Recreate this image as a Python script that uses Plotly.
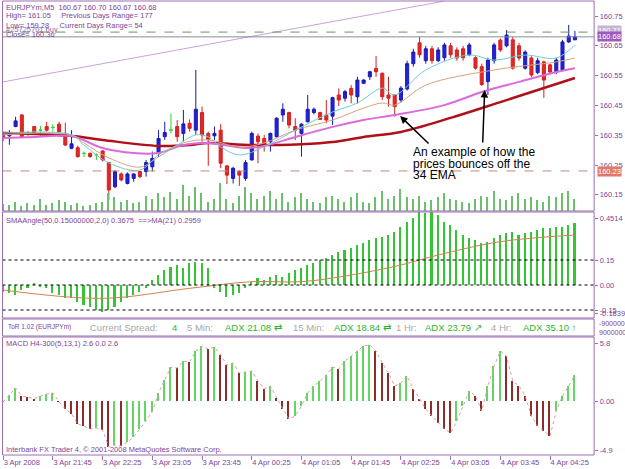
import plotly.graph_objects as go

# ---------------- data ----------------
TIME_TICKS = [0, 8, 16, 24, 32, 40, 48, 56, 64, 72, 80, 88]
TIME_LABELS = ["3 Apr 2008", "3 Apr 21:45", "3 Apr 22:25", "3 Apr 23:05", "3 Apr 23:45",
               "4 Apr 00:25", "4 Apr 01:05", "4 Apr 01:45", "4 Apr 02:25", "4 Apr 03:05",
               "4 Apr 03:45", "4 Apr 04:25"]

OPEN = [160.356, 160.348, 160.379, 160.418, 160.356, 160.379, 160.367, 160.379, 160.376, 160.387,
        160.356, 160.306, 160.308, 160.289, 160.289, 160.284, 160.297, 160.258, 160.177, 160.220,
        160.188, 160.205, 160.228, 160.228, 160.244, 160.289, 160.345, 160.367, 160.379, 160.356,
        160.390, 160.367, 160.426, 160.356, 160.348, 160.367, 160.247, 160.205, 160.228, 160.205,
        160.267, 160.347, 160.339, 160.328, 160.345, 160.418, 160.426, 160.379, 160.356, 160.395,
        160.426, 160.426, 160.418, 160.414, 160.485, 160.474, 160.507, 160.479, 160.524, 160.546,
        160.574, 160.558, 160.485, 160.485, 160.468, 160.505, 160.590, 160.660, 160.600, 160.640,
        160.600, 160.610, 160.650, 160.636, 160.640, 160.620, 160.610, 160.580, 160.530, 160.600,
        160.669, 160.650, 160.670, 160.650, 160.575, 160.609, 160.560, 160.596, 160.586, 160.562,
        160.569, 160.663, 160.670]
HIGH = [160.362, 160.367, 160.412, 160.420, 160.365, 160.381, 160.381, 160.395, 160.387, 160.395,
        160.392, 160.367, 160.315, 160.295, 160.292, 160.289, 160.300, 160.261, 160.233, 160.225,
        160.225, 160.222, 160.231, 160.267, 160.295, 160.367, 160.395, 160.423, 160.401, 160.435,
        160.403, 160.569, 160.446, 160.362, 160.379, 160.387, 160.250, 160.244, 160.233, 160.267,
        160.362, 160.356, 160.351, 160.359, 160.410, 160.457, 160.429, 160.407, 160.390, 160.485,
        160.443, 160.429, 160.468, 160.479, 160.507, 160.502, 160.518, 160.546, 160.538, 160.566,
        160.616, 160.560, 160.546, 160.488, 160.515, 160.600, 160.640, 160.680, 160.650, 160.650,
        160.645, 160.660, 160.660, 160.645, 160.650, 160.660, 160.615, 160.590, 160.610, 160.660,
        160.675, 160.703, 160.680, 160.660, 160.635, 160.615, 160.610, 160.600, 160.590, 160.610,
        160.670, 160.720, 160.700]
LOW = [160.330, 160.318, 160.377, 160.340, 160.347, 160.353, 160.345, 160.362, 160.362, 160.356,
       160.314, 160.303, 160.275, 160.276, 160.275, 160.267, 160.262, 160.133, 160.172, 160.195,
       160.185, 160.194, 160.206, 160.211, 160.228, 160.278, 160.334, 160.356, 160.328, 160.328,
       160.362, 160.351, 160.328, 160.247, 160.334, 160.239, 160.186, 160.188, 160.180, 160.197,
       160.265, 160.256, 160.295, 160.295, 160.342, 160.395, 160.373, 160.334, 160.278, 160.393,
       160.420, 160.401, 160.390, 160.384, 160.448, 160.463, 160.457, 160.457, 160.522, 160.535,
       160.546, 160.468, 160.446, 160.412, 160.460, 160.500, 160.580, 160.610, 160.590, 160.590,
       160.595, 160.600, 160.610, 160.600, 160.600, 160.615, 160.570, 160.515, 160.485, 160.590,
       160.630, 160.645, 160.570, 160.600, 160.570, 160.545, 160.555, 160.475, 160.555, 160.555,
       160.565, 160.660, 160.670]
CLOSE = [160.340, 160.356, 160.398, 160.343, 160.356, 160.356, 160.367, 160.367, 160.376, 160.362,
         160.317, 160.321, 160.278, 160.289, 160.278, 160.284, 160.267, 160.166, 160.228, 160.200,
         160.220, 160.220, 160.211, 160.258, 160.272, 160.339, 160.359, 160.367, 160.345, 160.388,
         160.373, 160.437, 160.351, 160.336, 160.356, 160.256, 160.216, 160.239, 160.216, 160.258,
         160.356, 160.328, 160.320, 160.356, 160.407, 160.437, 160.384, 160.367, 160.387, 160.437,
         160.437, 160.403, 160.401, 160.476, 160.468, 160.496, 160.485, 160.535, 160.535, 160.563,
         160.563, 160.479, 160.474, 160.446, 160.508, 160.590, 160.629, 160.620, 160.640, 160.600,
         160.636, 160.653, 160.620, 160.609, 160.610, 160.653, 160.575, 160.520, 160.602, 160.653,
         160.636, 160.686, 160.575, 160.609, 160.629, 160.552, 160.600, 160.535, 160.562, 160.602,
         160.663, 160.683, 160.680]

VOLUME = [7, 6, 9, 5, 8, 6, 12, 6, 8, 11, 9, 6, 8, 5, 6, 8, 9,
          18, 14, 9, 11, 8, 9, 15, 12, 18, 14, 19, 12, 26, 15, 24,
          18, 9, 12, 28, 12, 8, 15, 24, 18, 12, 15, 20, 12, 18, 9, 14,
          18, 12, 9, 8, 14, 15, 12, 9, 14, 18, 9, 8, 14, 20, 12, 15,
          22, 14, 12, 15, 9, 11, 14, 18, 12, 11, 9, 8, 12, 15, 14, 20, 12, 11, 15, 18, 12, 14, 11, 9, 15, 14, 18, 20, 12]

# moving-average lines (bar index, price)
MA_FAST_X = [0, 11, 13, 17, 22, 25, 28, 31, 33, 35, 38, 42, 47, 53, 57, 61, 63, 68, 75, 79, 84, 89, 92]
MA_FAST_Y = [160.357, 160.351, 160.317, 160.257, 160.233, 160.284, 160.317, 160.351, 160.344, 160.311,
             160.284, 160.311, 160.367, 160.428, 160.458, 160.508, 160.485, 160.569, 160.619, 160.602,
             160.619, 160.609, 160.653]
MA_MID_X = [0, 11, 13, 17, 22, 25, 29, 33, 38, 42, 47, 53, 58, 61, 63, 68, 79, 89, 92]
MA_MID_Y = [160.351, 160.351, 160.324, 160.274, 160.243, 160.277, 160.324, 160.334, 160.310, 160.324,
            160.367, 160.401, 160.441, 160.458, 160.451, 160.518, 160.569, 160.596, 160.609]
MA34_X = [0, 5, 11, 16, 21, 25, 29, 33, 39, 42, 47, 53, 58, 63, 71, 77, 83, 89, 92]
MA34_Y = [160.341, 160.344, 160.347, 160.307, 160.290, 160.290, 160.317, 160.324, 160.307, 160.314,
          160.344, 160.378, 160.401, 160.418, 160.451, 160.495, 160.529, 160.562, 160.575]
MA_SLOW_X = [0, 11, 16, 25, 30, 33, 40, 48, 53, 58, 64, 72, 80, 88, 92]
MA_SLOW_Y = [160.357, 160.347, 160.334, 160.314, 160.317, 160.324, 160.317, 160.320, 160.327, 160.344,
             160.361, 160.408, 160.461, 160.515, 160.542]

TREND_X = [-0.5, 71]
TREND_Y = [160.527, 160.800]

BUY_LEVEL = 160.696
BID_LEVEL = 160.68
LOW_LEVEL = 160.23
PRICE_TICKS = [160.15, 160.25, 160.35, 160.45, 160.55, 160.65, 160.75]

SMA_ANGLE = [-0.04, -0.05, -0.06, -0.03,
             -0.02, 0.01, -0.01, -0.02,
             -0.05, -0.06, -0.08, -0.08, -0.10,
             -0.12, -0.13, -0.15, -0.16, -0.15, -0.13, -0.10, -0.08,
             -0.06, -0.04, -0.02,
             0.03, 0.06, 0.09, 0.11, 0.12, 0.10,
             0.13, 0.14, 0.13, 0.10,
             -0.02, -0.04, -0.07, -0.06, -0.05,
             -0.02, 0.02, 0.04, 0.03, 0.05, 0.06, 0.05, 0.07,
             0.09, 0.10, 0.12, 0.13, 0.15, 0.16, 0.18, 0.20, 0.21,
             0.22, 0.24, 0.25, 0.27, 0.28, 0.29, 0.30,
             0.32, 0.35, 0.38, 0.40, 0.44, 0.43, 0.44, 0.42,
             0.38, 0.36, 0.33, 0.30, 0.28, 0.27, 0.25, 0.26, 0.28, 0.30,
             0.31, 0.32, 0.30, 0.31, 0.32, 0.33, 0.34, 0.34, 0.35, 0.35, 0.36, 0.37]
SMA_MA_X = [0, 16, 30, 40, 48, 56, 64, 70, 80, 92]
SMA_MA_Y = [-0.03, -0.08, -0.02, 0.02, 0.02, 0.06, 0.12, 0.18, 0.26, 0.30]
SMA_LEVELS = [0.15, 0.0, -0.15]

MACD = [-0.1, 0.6, 1.3, 0.5, 0.4, 0.25, 0.5, 0.7, 0.8, -0.1, -0.8, -1.3, -2.3, -2.5, -2.8, -2.7,
        -2.9, -4.6, -4.4, -4.5, -4.1, -3.6, -2.8, -2.0, -1.1, 0.8, 2.1, 3.4, 3.3, 4.0, 3.9, 5.0,
        5.5, 5.2, 5.4, 4.6, 3.6, 3.8, 2.8, 2.9, 3.0, 2.0, 1.2, 1.5,
        0.3, -0.8, -1.8, -1.5, -0.5, 0.8, 1.5,
        2.0, 2.6, 3.4, 3.2, 4.0, 4.5, 5.0, 5.5, 5.6,
        5.0, 3.8, 2.8, 1.5, 1.8, 2.5, 1.2,
        0.2, -0.8, -1.5, -2.2, -2.8, -3.2,
        -2.0, -0.5, 1.0, 0.5, -1.0, 1.5, 3.5, 5.0,
        4.5, 2.0, 1.5, 0.5, -1.5, -2.5, -3.0, -3.5,
        -1.0, 0.5, 1.5, 2.6]

# ---------------- layout helpers ----------------
W, H = 625, 469
def py(px):
    return 1 - px / H
def pxx(px):
    return px / W

PURPLE = "#9B6FB0"
TXT = "#7E4596"
FONT = "Liberation Sans"

n = len(CLOSE)
idx = list(range(n))

fig = go.Figure()

# volume (behind)
fig.add_trace(go.Bar(x=idx, y=VOLUME, width=0.2, marker=dict(color="#6CBF6C", line_width=0),
                     xaxis="x", yaxis="y4", hoverinfo="skip"))

# trendline
fig.add_trace(go.Scatter(x=TREND_X, y=TREND_Y, mode="lines", line=dict(color="#C9A3D4", width=1),
                         xaxis="x", yaxis="y", hoverinfo="skip"))

# moving averages
fig.add_trace(go.Scatter(x=MA_SLOW_X, y=MA_SLOW_Y, mode="lines", line=dict(color="#B0101A", width=2.5, shape="spline"),
                         xaxis="x", yaxis="y"))
fig.add_trace(go.Scatter(x=MA34_X, y=MA34_Y, mode="lines", line=dict(color="#DC6ADC", width=2, shape="spline"),
                         xaxis="x", yaxis="y"))
fig.add_trace(go.Scatter(x=MA_MID_X, y=MA_MID_Y, mode="lines", line=dict(color="#D6A27C", width=1, shape="spline"),
                         xaxis="x", yaxis="y"))
fig.add_trace(go.Scatter(x=MA_FAST_X, y=MA_FAST_Y, mode="lines", line=dict(color="#6FCFCF", width=1, shape="spline"),
                         xaxis="x", yaxis="y"))

# candles
nd = [i for i in idx if OPEN[i] != CLOSE[i]]
dj = [i for i in idx if OPEN[i] == CLOSE[i]]
fig.add_trace(go.Candlestick(
    x=nd, open=[OPEN[i] for i in nd], high=[HIGH[i] for i in nd],
    low=[LOW[i] for i in nd], close=[CLOSE[i] for i in nd],
    increasing=dict(line=dict(color="#1A1AB0", width=1), fillcolor="#2222DD"),
    decreasing=dict(line=dict(color="#D42020", width=1), fillcolor="#E02828"),
    whiskerwidth=0, xaxis="x", yaxis="y"))
fig.add_trace(go.Candlestick(
    x=dj, open=[OPEN[i] for i in dj], high=[HIGH[i] for i in dj],
    low=[LOW[i] for i in dj], close=[CLOSE[i] for i in dj],
    increasing=dict(line=dict(color="#33CC33", width=1), fillcolor="#33CC33"),
    decreasing=dict(line=dict(color="#33CC33", width=1), fillcolor="#33CC33"),
    whiskerwidth=0, xaxis="x", yaxis="y"))

# SMA angle histogram
fig.add_trace(go.Bar(x=idx, y=SMA_ANGLE, width=0.34, marker=dict(color="#35C435", line_width=0),
                     xaxis="x", yaxis="y2"))
fig.add_trace(go.Scatter(x=SMA_MA_X, y=SMA_MA_Y, mode="lines", line=dict(color="#D08050", width=1, shape="spline"),
                         xaxis="x", yaxis="y2"))

# MACD
macd_cols = ["#63D663" if (i > 0 and MACD[i] >= MACD[i - 1]) else "#8E2B2B" for i in idx]
fig.add_trace(go.Bar(x=idx, y=MACD, width=0.22, marker=dict(color=macd_cols, line_width=0),
                     xaxis="x", yaxis="y3"))
fig.add_trace(go.Scatter(x=idx, y=MACD, mode="lines", line=dict(color="#D8A0A0", width=1, dash="dot"),
                         xaxis="x", yaxis="y3"))

shapes = []
# level lines in main panel
shapes.append(dict(type="line", xref="x domain", x0=0, x1=1, yref="y", y0=BUY_LEVEL, y1=BUY_LEVEL,
                   line=dict(color="#5A9E5A", width=1, dash="dash")))
shapes.append(dict(type="line", xref="x domain", x0=0, x1=1, yref="y", y0=BID_LEVEL, y1=BID_LEVEL,
                   line=dict(color="#8A8A98", width=1)))
shapes.append(dict(type="line", xref="x domain", x0=0, x1=1, yref="y", y0=LOW_LEVEL, y1=LOW_LEVEL,
                   line=dict(color="#C08A80", width=1, dash="dash")))
for lv in SMA_LEVELS:
    shapes.append(dict(type="line", xref="x domain", x0=0, x1=1, yref="y2", y0=lv, y1=lv,
                       line=dict(color="#000000", width=1, dash="dot")))

# panel frames
for top, bot in [(1, 211), (212, 318), (319, 336), (337, 455)]:
    shapes.append(dict(type="rect", xref="paper", yref="paper", x0=pxx(2.5), x1=pxx(597),
                       y0=py(bot), y1=py(top), line=dict(color=PURPLE, width=1), layer="above"))

annotations = []
def txt(x, y, s, color=TXT, size=7.5, family=FONT, xanchor="left", bg=None):
    d = dict(xref="paper", yref="paper", x=pxx(x), y=py(y), text=s, showarrow=False,
             xanchor=xanchor, yanchor="middle", font=dict(color=color, size=size, family=family))
    if bg:
        d["bgcolor"] = bg
        d["borderpad"] = 0
    annotations.append(d)

# header texts
txt(4, 7, "EURJPYm,M5  160.67 160.70 160.67 160.68")
txt(4, 16, "High= 161.05     Previous Days Range= 177")
txt(4, 25, "Low= 159.28     Current Days Range= 54")
txt(4, 29, "#25725701 buy", color="#8C6AA0")
txt(4, 34, "Close= 160.36")

txt(4, 220, "SMAAngle(50,0.15000000,2,0) 0.3675  ==>MA(21) 0.2959")
txt(4, 343, "MACD H4-300(5,13,1) 2.6 0.0 2.6")
txt(4, 449, "Interbank FX Trader 4, \u00a9 2001-2008 MetaQuotes Software Corp.")

# ADX info row
GRAY = "#A8A8A8"
GREEN = "#2DB52D"
txt(6, 327, "ToR 1.02 (EURJPYm)", color=TXT, size=6.5)
txt(88, 327, "Current Spread:", color=GRAY, size=9.5)
txt(171, 327, "4", color=GREEN, size=9.5)
txt(186, 327, "5 Min:", color=GRAY, size=9.5)
txt(224, 327, "ADX 21.08 \u21c4", color=GREEN, size=9.5)
txt(292, 327, "15 Min:", color=GRAY, size=9.5)
txt(334, 327, "ADX 18.84 \u21c4", color=GREEN, size=9.5)
txt(396, 327, "1 Hr:", color=GRAY, size=9.5)
txt(425, 327, "ADX 23.79 \u2197", color=GREEN, size=9.5)
txt(491, 327, "4 Hr:", color=GRAY, size=9.5)
txt(524, 327, "ADX 35.10 \u2191", color=GREEN, size=9.5)
txt(600, 323, "-9000000", size=7)
txt(600, 332, "9000000", size=7)

# price boxes on right axis
txt(600, 30, "160.71", color="#FFFFFF", bg="#C6B4D2")
txt(600, 37, "160.68", color="#FFFFFF", bg="#9A5CB8")
txt(600, 171, "160.23", color="#FFFFFF", bg="#E07868")

# comment text and arrows
for k, line in enumerate(["An example of how the", "prices bounces off the", "34 EMA"]):
    annotations.append(dict(xref="paper", yref="paper", x=pxx(413), y=py(152 + 11.7 * k), text=line,
                            showarrow=False, xanchor="left", yanchor="middle",
                            font=dict(color="#000000", size=12, family="Liberation Sans")))
annotations.append(dict(xref="paper", yref="paper", x=pxx(402), y=py(116), ax=30, ay=29, text="",
                        showarrow=True, arrowhead=2, arrowsize=1, arrowwidth=1.5, arrowcolor="#000000",
                        axref="pixel", ayref="pixel"))
annotations.append(dict(xref="paper", yref="paper", x=pxx(487), y=py(90), ax=-2, ay=54, text="",
                        showarrow=True, arrowhead=2, arrowsize=1, arrowwidth=1.5, arrowcolor="#000000",
                        axref="pixel", ayref="pixel"))

XR = [-0.11, 95.09]
tickfont = dict(color=TXT, size=7.5, family=FONT)
fig.update_layout(
    width=W, height=H, margin=dict(l=0, r=0, t=0, b=0),
    paper_bgcolor="white", plot_bgcolor="white", showlegend=False,
    shapes=shapes, annotations=annotations,
    xaxis=dict(domain=[pxx(2.5), pxx(597)], range=XR, anchor="y3", rangeslider=dict(visible=False),
               tickmode="array", tickvals=TIME_TICKS, ticktext=TIME_LABELS, ticks="outside", ticklen=4,
               tickcolor=PURPLE, ticklabelposition="outside right", tickfont=tickfont,
               showgrid=False, zeroline=False, showline=False, fixedrange=True),
    yaxis=dict(domain=[py(211), py(1)], range=[160.75 - 195 / 298, 160.75 + 15 / 298], side="right",
               anchor="x", tickmode="array", tickvals=PRICE_TICKS, ticktext=[f"{v:.2f}" for v in PRICE_TICKS],
               ticks="outside", ticklen=3, tickcolor=PURPLE, tickfont=tickfont,
               showgrid=False, zeroline=False),
    yaxis4=dict(domain=[py(211), py(1)], range=[0, 210], overlaying="y", visible=False),
    yaxis2=dict(domain=[py(318), py(212)], range=[-33 / 166.67, 73 / 166.67], side="right", anchor="x",
                tickmode="array", tickvals=[0.402, 0.15, 0.0, -0.15, -0.17],
                ticktext=["0.4514", "0.15", "0.00", "-0.15", "-0.1839"],
                ticks="outside", ticklen=3, tickcolor=PURPLE, tickfont=tickfont,
                showgrid=False, zeroline=False),
    yaxis3=dict(domain=[py(455), py(337)], range=[-5.4, 6.4], side="right", anchor="x",
                tickmode="array", tickvals=[5.8, 0.0, -4.9], ticktext=["5.8", "0.00", "-4.9"],
                ticks="outside", ticklen=3, tickcolor=PURPLE, tickfont=tickfont,
                showgrid=False, zeroline=False),
    bargap=0,
)

fig.write_html("out.html")
